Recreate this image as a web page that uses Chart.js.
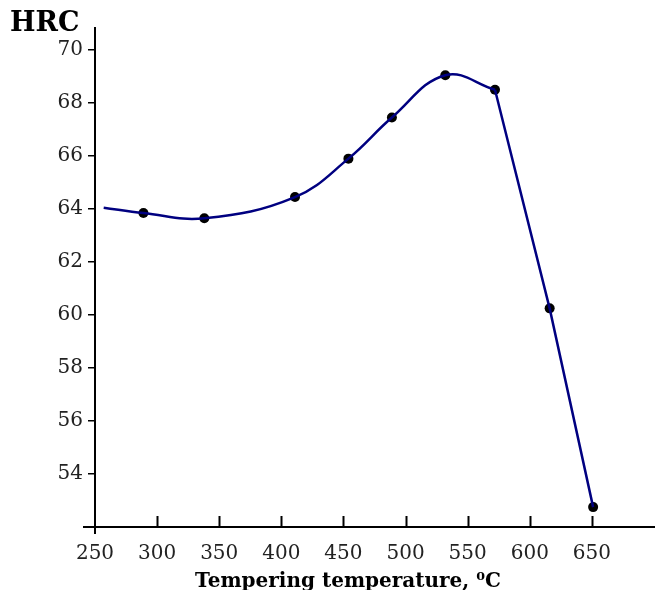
<!DOCTYPE html>
<html>
<head>
<meta charset="utf-8">
<script src="https://cdn.jsdelivr.net/npm/chart.js@4.4.1/dist/chart.umd.min.js"></script>
<style>
  html, body { margin: 0; padding: 0; background: #fff; }
  #wrap { width: 659px; height: 590px; }
</style>
</head>
<body>
<div id="wrap"><canvas id="c" width="659" height="590"></canvas></div>
<script>
// ---- data ----
const tempC = [289, 338, 411, 454, 489, 532, 572, 616, 651];          // tempering temperature, °C
const hrc   = [63.85, 63.65, 64.45, 65.9, 67.45, 69.05, 68.5, 60.25, 52.75]; // hardness HRC
const curveStartC = 257;     // where the fitted curve begins (no marker)
const curveStartHrc = 64.05;
const smoothUntil = 6;       // index of last point on the smooth part of the curve
const xTicks = [250, 300, 350, 400, 450, 500, 550, 600, 650];
const yTicks = [54, 56, 58, 60, 62, 64, 66, 68, 70];
const xRange = [250, 700];
const yRange = [52, 70.83];
const xTitle = 'Tempering temperature, \u2070C';
const yTitle = 'HRC';

const pts = tempC.map((t, i) => ({ x: t, y: hrc[i] }));
const smoothPts = [{ x: curveStartC, y: curveStartHrc }].concat(pts.slice(0, smoothUntil + 1));
const straightPts = pts.slice(smoothUntil);

const LINE = '#000080';

const extras = {
  id: 'extras',
  afterDraw(chart) {
    const { ctx, chartArea: { left, bottom }, scales: { x } } = chart;
    ctx.save();
    ctx.strokeStyle = '#000';
    ctx.lineWidth = 2;
    ctx.beginPath();
    xTicks.forEach(v => {
      if (v === xRange[0]) return;
      const px = Math.round(x.getPixelForValue(v)) + 0.5;
      ctx.moveTo(px, bottom);
      ctx.lineTo(px, bottom - 11);
    });
    // axis overhangs
    ctx.moveTo(left - 12, bottom);
    ctx.lineTo(left, bottom);
    ctx.moveTo(left, bottom);
    ctx.lineTo(left, bottom + 7);
    ctx.stroke();

    ctx.fillStyle = '#000';
    ctx.textBaseline = 'middle';
    ctx.textAlign = 'left';
    ctx.font = 'bold 27px "DejaVu Serif"';
    ctx.fillText(yTitle, 10, 24);
    ctx.textAlign = 'center';
    ctx.font = 'bold 20px "DejaVu Serif"';
    ctx.fillText(xTitle, 348, 582);
    ctx.restore();
  }
};

new Chart(document.getElementById('c'), {
  type: 'scatter',
  data: {
    datasets: [
      { data: smoothPts, showLine: true, tension: 0.4, borderColor: LINE, borderWidth: 2.5,
        pointRadius: 0, pointHoverRadius: 0, fill: false },
      { data: straightPts, showLine: true, tension: 0, borderColor: LINE, borderWidth: 2.5,
        pointRadius: 0, pointHoverRadius: 0, fill: false },
      { data: pts, showLine: false, pointRadius: 5, pointBackgroundColor: '#000',
        pointBorderColor: '#000', pointBorderWidth: 0 }
    ]
  },
  options: {
    responsive: false,
    animation: false,
    events: [],
    layout: { padding: { top: 28, right: 2, left: 0, bottom: 0 } },
    plugins: { legend: { display: false }, tooltip: { enabled: false }, title: { display: false } },
    scales: {
      x: {
        type: 'linear',
        min: xRange[0], max: xRange[1],
        afterBuildTicks: s => { s.ticks = xTicks.map(v => ({ value: v })); },
        afterFit: s => { s.height = 63; },
        grid: { display: false },
        border: { display: true, color: '#000', width: 2 },
        ticks: { color: '#222', padding: 7, maxRotation: 0, autoSkip: false,
                 font: { family: 'DejaVu Serif', size: 20 } }
      },
      y: {
        type: 'linear',
        min: yRange[0], max: yRange[1],
        afterBuildTicks: s => { s.ticks = yTicks.map(v => ({ value: v })); },
        afterFit: s => { s.width = 95; },
        grid: { display: true, drawOnChartArea: false, drawTicks: true, tickLength: 7,
                color: '#000', lineWidth: 1.5 },
        border: { display: true, color: '#000', width: 2 },
        ticks: { color: '#222', padding: 5, autoSkip: false,
                 font: { family: 'DejaVu Serif', size: 20 } }
      }
    }
  },
  plugins: [extras]
});
</script>
</body>
</html>
